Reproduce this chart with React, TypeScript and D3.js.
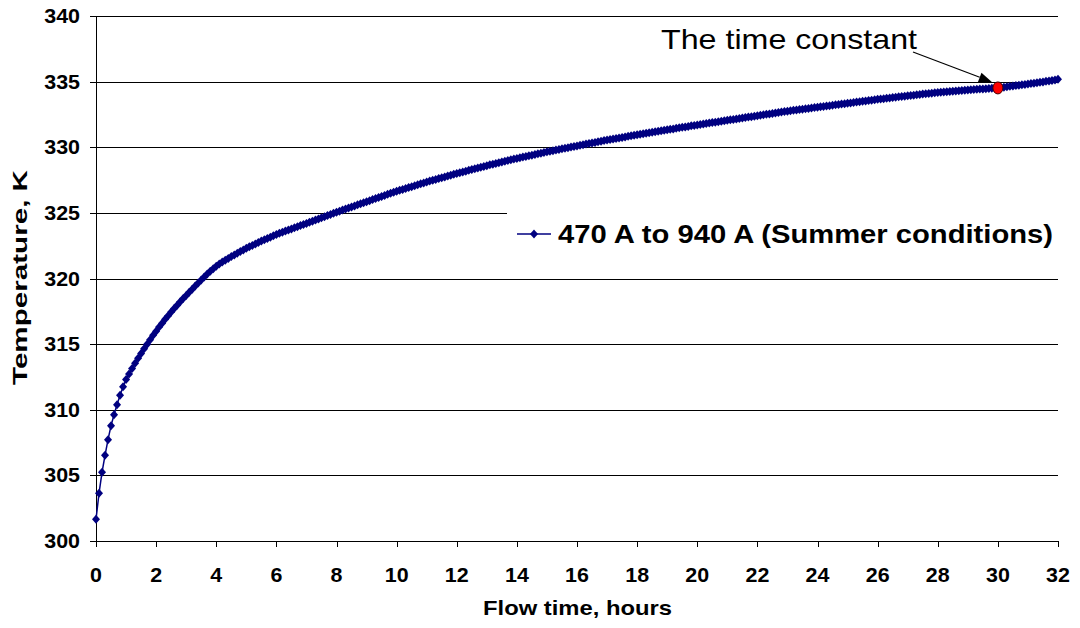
import React from 'react';
import * as d3 from 'd3';

// Temperature (K) sampled every 0.1 hour from 0 to 32 hours
const tempK: number[] = [
  301.65, 303.63, 305.23, 306.53, 307.72, 308.79, 309.62, 310.39, 311.10, 311.75,
  312.30, 312.73, 313.14, 313.54, 313.92, 314.29, 314.65, 315.00, 315.34, 315.67,
  315.99, 316.30, 316.60, 316.89, 317.17, 317.44, 317.71, 317.97, 318.22, 318.47,
  318.71, 318.95, 319.19, 319.43, 319.66, 319.89, 320.12, 320.34, 320.55, 320.75,
  320.94, 321.10, 321.25, 321.39, 321.53, 321.67, 321.80, 321.93, 322.06, 322.18,
  322.30, 322.41, 322.52, 322.63, 322.74, 322.85, 322.95, 323.05, 323.15, 323.25,
  323.35, 323.44, 323.53, 323.61, 323.70, 323.78, 323.87, 323.95, 324.03, 324.12,
  324.20, 324.29, 324.37, 324.46, 324.54, 324.63, 324.71, 324.80, 324.88, 324.97,
  325.05, 325.13, 325.21, 325.29, 325.37, 325.45, 325.53, 325.61, 325.69, 325.77,
  325.85, 325.93, 326.01, 326.09, 326.17, 326.25, 326.33, 326.41, 326.49, 326.57,
  326.65, 326.72, 326.79, 326.86, 326.93, 327.00, 327.07, 327.14, 327.21, 327.28,
  327.35, 327.42, 327.48, 327.55, 327.61, 327.68, 327.74, 327.81, 327.87, 327.94,
  328.00, 328.06, 328.12, 328.18, 328.24, 328.30, 328.36, 328.42, 328.48, 328.54,
  328.60, 328.66, 328.71, 328.77, 328.82, 328.88, 328.93, 328.99, 329.04, 329.10,
  329.15, 329.20, 329.25, 329.30, 329.35, 329.40, 329.45, 329.50, 329.55, 329.60,
  329.65, 329.70, 329.74, 329.79, 329.83, 329.88, 329.92, 329.97, 330.01, 330.06,
  330.10, 330.15, 330.19, 330.24, 330.28, 330.33, 330.37, 330.42, 330.46, 330.51,
  330.55, 330.59, 330.63, 330.67, 330.71, 330.75, 330.79, 330.83, 330.87, 330.91,
  330.95, 330.99, 331.03, 331.06, 331.10, 331.14, 331.18, 331.22, 331.25, 331.29,
  331.33, 331.37, 331.40, 331.44, 331.48, 331.52, 331.55, 331.59, 331.63, 331.66,
  331.70, 331.74, 331.77, 331.81, 331.84, 331.88, 331.91, 331.95, 331.98, 332.02,
  332.05, 332.09, 332.12, 332.16, 332.19, 332.23, 332.26, 332.30, 332.33, 332.37,
  332.40, 332.44, 332.47, 332.51, 332.54, 332.58, 332.61, 332.65, 332.68, 332.72,
  332.75, 332.78, 332.81, 332.84, 332.87, 332.90, 332.93, 332.96, 332.99, 333.02,
  333.05, 333.08, 333.11, 333.14, 333.17, 333.20, 333.23, 333.26, 333.29, 333.32,
  333.35, 333.38, 333.41, 333.44, 333.47, 333.50, 333.53, 333.56, 333.59, 333.62,
  333.65, 333.68, 333.70, 333.73, 333.76, 333.79, 333.81, 333.84, 333.87, 333.89,
  333.92, 333.95, 333.97, 334.00, 334.02, 334.05, 334.07, 334.10, 334.12, 334.15,
  334.17, 334.19, 334.21, 334.23, 334.25, 334.27, 334.29, 334.31, 334.33, 334.35,
  334.37, 334.38, 334.40, 334.41, 334.43, 334.44, 334.46, 334.47, 334.49, 334.50,
  334.52, 334.55, 334.58, 334.61, 334.64, 334.67, 334.70, 334.73, 334.76, 334.79,
  334.82, 334.85, 334.88, 334.91, 334.95, 334.98, 335.02, 335.05, 335.09, 335.13,
  335.18,
];
const timeStepHours = 0.1;
const hours: number[] = tempK.map((_, i) => +(i * timeStepHours).toFixed(1));

const xTicks = [0, 2, 4, 6, 8, 10, 12, 14, 16, 18, 20, 22, 24, 26, 28, 30, 32];
const yTicks = [300, 305, 310, 315, 320, 325, 330, 335, 340];

const seriesName = '470 A to 940 A (Summer conditions)';
const annotationText = 'The time constant';
const timeConstantHour = 30;
const timeConstantTemp = 334.52;
const xTitle = 'Flow time, hours';
const yTitle = 'Temperature, K';

const W = 1080;
const H = 628;
const plot = { left: 96, right: 1058, top: 16, bottom: 541 };
const FONT = "'Liberation Sans', Arial, Helvetica, sans-serif";
const SX = 1.1; // horizontal stretch of tick text in the reference
const NAVY = '#000080';

const diamond = (cx: number, cy: number, hw: number, hh: number) =>
  `M${cx},${cy - hh}L${cx + hw},${cy}L${cx},${cy + hh}L${cx - hw},${cy}Z`;

function SText(props: { x: number; y: number; size: number; anchor?: string; weight?: string; children: string }) {
  const { x, y, size, anchor = 'start', weight = 'bold', children } = props;
  return (
    <text transform={`translate(${x},${y}) scale(${SX},1)`} textAnchor={anchor} fontFamily={FONT} fontSize={size} fontWeight={weight} fill="#000">
      {children}
    </text>
  );
}

export default function App() {
  const x = d3.scaleLinear().domain([0, 32]).range([plot.left, plot.right]);
  const y = d3.scaleLinear().domain([300, 340]).range([plot.bottom, plot.top]);
  const crisp = (v: number) => Math.round(v) + 0.5;

  const pts = hours.map((h, i) => [x(h), y(tempK[i])] as [number, number]);
  const line = d3.line<[number, number]>().x((d) => d[0]).y((d) => d[1])(pts) || '';

  const legend = { left: 507, top: 200, right: 1062, bottom: 268, lineX0: 517, lineX1: 551, cy: 234, textX: 558, baseline: 243 };

  const tcX = x(timeConstantHour);
  const tcY = y(timeConstantTemp);
  const arrowStart: [number, number] = [913, 52];
  const tip: [number, number] = [tcX - 6, tcY - 6];
  const ang = Math.atan2(tip[1] - arrowStart[1], tip[0] - arrowStart[0]);
  const ah = 13, aw = 5;
  const bx = tip[0] - ah * Math.cos(ang), by = tip[1] - ah * Math.sin(ang);
  const arrowHead = `M${tip[0]},${tip[1]}L${bx + aw * Math.sin(ang)},${by - aw * Math.cos(ang)}L${bx - aw * Math.sin(ang)},${by + aw * Math.cos(ang)}Z`;

  return (
    <svg width={W} height={H} style={{ position: 'absolute', left: 0, top: 0, background: '#fff' }}>
      <rect x={0} y={0} width={W} height={H} fill="#fff" />
      {/* gridlines */}
      {yTicks.map((t) => (
        <line key={'g' + t} x1={plot.left} x2={plot.right} y1={crisp(y(t))} y2={crisp(y(t))} stroke="#000" strokeWidth={1} />
      ))}
      {/* y axis */}
      <line x1={plot.left + 0.5} x2={plot.left + 0.5} y1={plot.top} y2={plot.bottom} stroke="#000" strokeWidth={1} />
      {yTicks.map((t) => (
        <line key={'yt' + t} x1={plot.left - 6} x2={plot.left} y1={crisp(y(t))} y2={crisp(y(t))} stroke="#000" />
      ))}
      {yTicks.map((t) => (
        <SText key={'yl' + t} x={80} y={y(t) + 7} size={19.5} anchor="end">{String(t)}</SText>
      ))}
      {/* x axis */}
      <line x1={plot.left} x2={plot.right} y1={crisp(plot.bottom)} y2={crisp(plot.bottom)} stroke="#000" />
      {xTicks.map((t) => (
        <line key={'xt' + t} x1={crisp(x(t))} x2={crisp(x(t))} y1={plot.bottom} y2={plot.bottom + 6} stroke="#000" />
      ))}
      {xTicks.map((t) => (
        <SText key={'xl' + t} x={x(t)} y={582} size={19.5} anchor="middle">{String(t)}</SText>
      ))}
      <text x={483} y={615} textLength={189} lengthAdjust="spacingAndGlyphs" fontFamily={FONT} fontSize={21} fontWeight="bold" fill="#000">{xTitle}</text>
      <text transform="translate(27,385) rotate(-90)" x={0} y={0} textLength={215} lengthAdjust="spacingAndGlyphs" fontFamily={FONT} fontSize={20} fontWeight="bold" fill="#000">{yTitle}</text>

      {/* legend box (covers gridline) */}
      <rect x={legend.left} y={legend.top} width={legend.right - legend.left} height={legend.bottom - legend.top} fill="#fff" />
      <line x1={legend.lineX0} x2={legend.lineX1} y1={legend.cy} y2={legend.cy} stroke={NAVY} strokeWidth={1.5} />
      <path d={diamond((legend.lineX0 + legend.lineX1) / 2, legend.cy, 4, 4.5)} fill={NAVY} />
      <text x={legend.textX} y={legend.baseline} textLength={495} lengthAdjust="spacingAndGlyphs" fontFamily={FONT} fontSize={25.5} fontWeight="bold" fill="#000">{seriesName}</text>

      {/* series */}
      <path d={line} fill="none" stroke={NAVY} strokeWidth={1.5} />
      {pts.map((p, i) => (
        <path key={'m' + i} d={diamond(p[0], p[1], 4, 4.5)} fill={NAVY} />
      ))}

      {/* time constant */}
      <ellipse cx={tcX} cy={tcY} rx={5} ry={6} fill="#ff0000" stroke="#400" strokeWidth={1} />
      <line x1={arrowStart[0]} y1={arrowStart[1]} x2={bx} y2={by} stroke="#000" strokeWidth={1.2} />
      <path d={arrowHead} fill="#000" />
      <text x={661} y={49} textLength={256} lengthAdjust="spacingAndGlyphs" fontFamily={FONT} fontSize={28} fill="#000">{annotationText}</text>
    </svg>
  );
}
